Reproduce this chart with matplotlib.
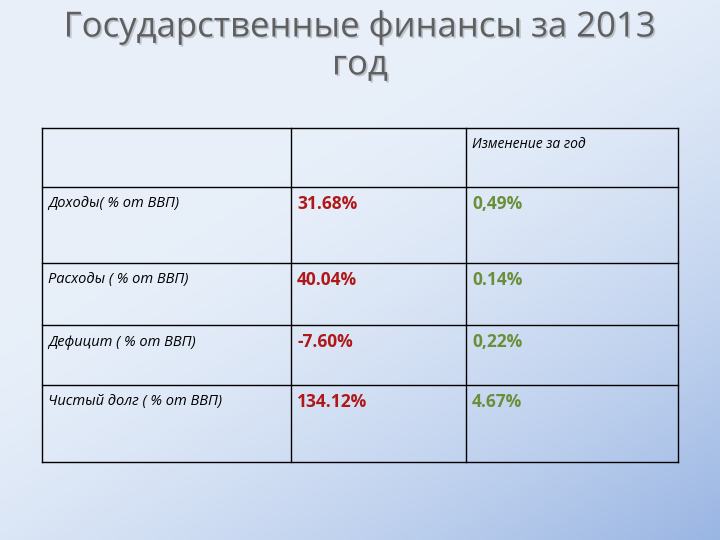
import matplotlib
matplotlib.use("Agg")
import matplotlib.pyplot as plt
import numpy as np
import matplotlib.patheffects as pe

title = "Государственные финансы за 2013\nгод"
header = ["", "", "Изменение за год"]
rows = ["Доходы( % от ВВП)", "Расходы ( % от ВВП)", "Дефицит ( % от ВВП)", "Чистый долг ( % от ВВП)"]
values = ["31.68%", "40.04%", "-7.60%", "134.12%"]
changes = ["0,49%", "0.14%", "0,22%", "4.67%"]

W, H = 720, 540
fig = plt.figure(figsize=(7.2, 5.4), dpi=100)
ax = fig.add_axes([0, 0, 1, 1])
ax.set_xlim(0, W); ax.set_ylim(H, 0); ax.axis("off")

yy, xx = np.mgrid[0:H, 0:W]
t = np.clip((xx / W * 0.5 + yy / H * 0.6) - 0.35, 0, 1) / 0.75
t = t ** 1.6
c0 = np.array([0.91, 0.94, 0.98]); c1 = np.array([0.60, 0.71, 0.89])
img = c0[None, None, :] * (1 - t[..., None]) + c1[None, None, :] * t[..., None]
ax.imshow(img, extent=[0, W, H, 0], aspect="auto", zorder=0)

ax.text(360, 46, title, ha="center", va="center", fontsize=25, color="#5f5f5f",
        family="Open Sans", linespacing=1.15,
        path_effects=[pe.withSimplePatchShadow(offset=(1.2, -1.2), alpha=0.2)])

xs = [42, 291, 466, 678]
ys = [128, 187, 263, 325, 385, 462]
for x in xs:
    ax.plot([x, x], [ys[0], ys[-1]], color="black", lw=1, zorder=3)
for y in ys:
    ax.plot([xs[0], xs[-1]], [y, y], color="black", lw=1, zorder=3)

ax.text(472, 144, header[2], ha="left", va="center", fontsize=10, style="italic", family="Open Sans")
for i in range(4):
    ty = ys[i + 1] + 17
    ax.text(48, ty, rows[i], ha="left", va="center", fontsize=10.5, style="italic", family="Open Sans")
    ax.text(297, ty, values[i], ha="left", va="center", fontsize=12.5, color="#b01818",
            family="Open Sans", weight="bold")
    ax.text(472, ty, changes[i], ha="left", va="center", fontsize=12.5, color="#6a8f3a",
            family="Open Sans", weight="bold")

fig.savefig("out.png", dpi=100)
